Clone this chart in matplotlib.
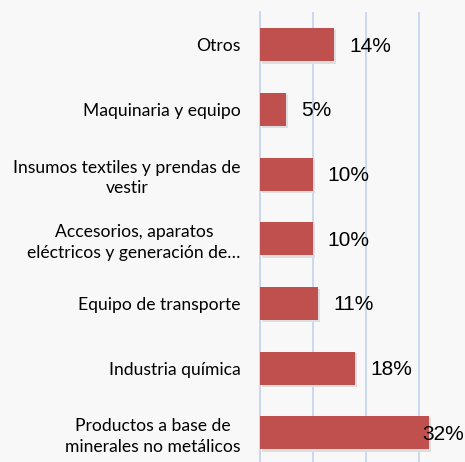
import matplotlib
matplotlib.use("Agg")
import matplotlib.pyplot as plt

categorias = [
    "Productos a base de\nminerales no metálicos",
    "Industria química",
    "Equipo de transporte",
    "Accesorios, aparatos\neléctricos y generación de…",
    "Insumos textiles y prendas de\nvestir",
    "Maquinaria y equipo",
    "Otros",
]
valores = [32, 18, 11, 10, 10, 5, 14]

plt.rcParams['font.family'] = ['Lato', 'DejaVu Sans']

fig = plt.figure(figsize=(4.65, 4.62), dpi=100)
fig.patch.set_facecolor('#f8f8f8')
ax = fig.add_axes([0.559, 0.0, 0.441, 0.974])
ax.set_facecolor('#f8f8f8')

pos = list(range(len(valores)))
# sombra suave
ax.barh([p - 0.03 for p in pos], valores, height=0.52, left=0.3, color='#dedede', zorder=2)
ax.barh(pos, valores, height=0.51, color='#c0504d', zorder=3)

xmax = 38.7
for p, v in zip(pos, valores):
    ax.text(min(v + 2.8, 30.7), p - 0.02, f"{v}%", va='center', ha='left', fontsize=15,
            family='Liberation Sans', zorder=4)

ax.set_xlim(0, xmax)
ax.set_ylim(-0.45, 6.51)
ax.set_xticks([0, 10, 20, 30])
ax.set_xticklabels([])
ax.tick_params(axis='x', length=0)
ax.grid(axis='x', color='#c6d6ec', linewidth=1.3, zorder=1)
ax.set_yticks(pos)
ax.set_yticklabels(categorias, fontsize=12.6, multialignment='center', linespacing=1.35)
ax.tick_params(axis='y', length=0, pad=14)
for s in ['top', 'right', 'bottom']:
    ax.spines[s].set_visible(False)
ax.spines['left'].set_color('#c6d6ec')
ax.spines['left'].set_linewidth(1.3)

fig.savefig('out.png', dpi=100, facecolor=fig.get_facecolor())
